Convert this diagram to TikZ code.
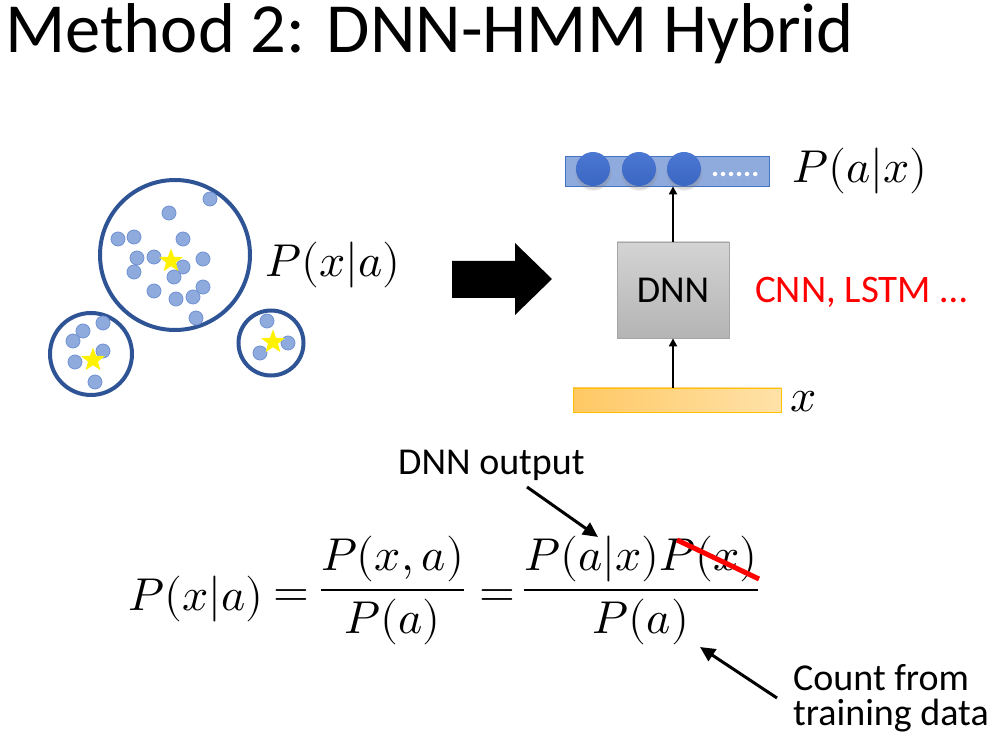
\documentclass[tikz,border=0pt]{standalone}
\usepackage{fontspec}
\usepackage{unicode-math}
\setmathfont{Latin Modern Math}
\newfontfamily\carlito{Carlito}
\usetikzlibrary{shapes.geometric,arrows.meta,shadows}
\definecolor{clusterblue}{RGB}{47,84,150}
\definecolor{dotfill}{RGB}{143,170,220}
\definecolor{dotdraw}{RGB}{112,146,210}
\definecolor{barfill}{RGB}{143,170,220}
\definecolor{bardraw}{RGB}{68,114,196}
\definecolor{neuron}{RGB}{59,103,196}
\definecolor{neurontop}{RGB}{75,120,210}
\definecolor{dnntop}{RGB}{212,212,212}
\definecolor{dnnbot}{RGB}{180,180,180}
\definecolor{dnnline}{RGB}{165,165,165}
\definecolor{xleft}{RGB}{255,200,100}
\definecolor{xright}{RGB}{255,226,168}
\definecolor{xline}{RGB}{255,192,0}
\begin{document}
\begin{tikzpicture}[x=1pt,y=-1pt,
  cluster/.style={circle, draw=clusterblue, line width=4pt, inner sep=0pt},
  pt/.style={circle, fill=dotfill, draw=dotdraw, line width=0.8pt, minimum size=14pt, inner sep=0pt},
  ystar/.style={star, star points=5, star point ratio=2.4, fill=yellow, minimum size=25pt, inner sep=0pt},
  mathlbl/.style={inner sep=0pt, font=\fontsize{46}{50}\selectfont},
  sanslbl/.style={inner sep=0pt, anchor=base west},
  neur/.style={circle, top color=neurontop, bottom color=neuron, minimum size=34pt, inner sep=0pt,
     circular drop shadow={shadow xshift=0pt, shadow yshift=-3pt, opacity=0.3}},
  conn/.style={-{Triangle[length=8pt,width=8pt]}, line width=2.5pt},
  note/.style={-{Triangle[length=15pt,width=14pt]}, line width=3pt}
]
\useasboundingbox (0,0) rectangle (997,743);
\fill[white] (0,0) rectangle (997,743);

% title
\node[sanslbl, font=\carlito\fontsize{70.5}{80}\selectfont] (title) at (5,53) {Method 2: DNN-HMM Hybrid};

% clusters
\node[cluster, minimum size=150pt] (big) at (175,255) {};
\node[cluster, minimum size=82pt] (left) at (91,354) {};
\node[cluster, minimum size=65pt] (right) at (271,343) {};

% dots big
\foreach \px/\py [count=\i] in {210/199,169/213,118/239,134/237,183/239,137/258,154/257,203/259,134/272,183/267,174/277,154/291,203/287,176/299,193/297,196/318}
  \node[pt] (b\i) at (\px,\py) {};
\node[ystar] (bstar) at (171,261) {};
% dots left
\foreach \px/\py [count=\i] in {103/323,83/331,73/341,103/351,75/362,95/382}
  \node[pt] (l\i) at (\px,\py) {};
\node[ystar] (lstar) at (93,360) {};
% dots right
\foreach \px/\py [count=\i] in {267/321,288/343,260/353}
  \node[pt] (r\i) at (\px,\py) {};
\node[ystar] (rstar) at (273,342) {};

\node[mathlbl, anchor=base west] (pxa) at (265,277) {$P(x|a)$};

% big arrow
\fill[black] (452,261) -- (515,261) -- (515,243) -- (552,279) -- (515,315) -- (515,298) -- (452,298) -- cycle;

% DNN side
\node[rectangle, fill=barfill, draw=bardraw, line width=0.8pt, minimum width=204pt, minimum height=30pt, inner sep=0pt] (outbar) at (667,171) {};
\node[neur] (n1) at (593,169) {};
\node[neur] (n2) at (639,169) {};
\node[neur] (n3) at (684,169) {};
\node[sanslbl, text=white, font=\carlito\bfseries\fontsize{30}{30}\selectfont] (dots) at (711,177) {......};
\node[mathlbl, anchor=base west] (pax) at (792,183) {$P(a|x)$};

\node[rectangle, top color=dnntop, bottom color=dnnbot, draw=dnnline, line width=0.8pt, minimum width=112pt, minimum height=96pt, inner sep=0pt, font=\carlito\fontsize{38}{40}\selectfont] (dnn) at (673,290) {DNN};
\node[sanslbl, text=red, font=\carlito\fontsize{39}{40}\selectfont] (cnn) at (755,303) {CNN, LSTM …};

\node[rectangle, left color=xleft, right color=xright, draw=xline, line width=0.8pt, minimum width=208pt, minimum height=24pt, inner sep=0pt] (xbar) at (677,400) {};
\node[mathlbl, anchor=base west] (xlab) at (790,412) {$x$};

\draw[conn] (dnn.north) -- (dnn.north |- outbar.south);
\draw[conn] (xbar.north -| dnn.south) -- (dnn.south);

% formula
\node[mathlbl, anchor=base west] (lhs) at (128,610) {$P(x|a)$};
\node[mathlbl] (eq1) at (291,598) {$=$};
\node[mathlbl, anchor=base] (frac1) at (392.5,601.5) {$\displaystyle\frac{P(x,a)}{P(a)}$};
\node[mathlbl] (eq2) at (497,598) {$=$};
\node[mathlbl, anchor=base] (frac2) at (641,601.5) {$\displaystyle\frac{P(a|x)P(x)}{P(a)}$};
\draw[red, line width=5pt] (677,540) -- (759,579);

% annotations
\node[sanslbl, font=\carlito\fontsize{38}{40}\selectfont] (dnnout) at (398,475) {DNN output};
\coordinate (dnnoutTail) at (527,487);
\coordinate (dnnoutTip) at (598,537);
\draw[note] (dnnoutTail) -- (dnnoutTip);

\node[sanslbl, font=\carlito\fontsize{38}{40}\selectfont] (count1) at (793,690) {Count from};
\node[sanslbl, font=\carlito\fontsize{38}{40}\selectfont] (count2) at (793,725) {training data};
\coordinate (countTail) at (777,698);
\coordinate (countTip) at (700,647);
\draw[note] (countTail) -- (countTip);
\end{tikzpicture}
\end{document}
